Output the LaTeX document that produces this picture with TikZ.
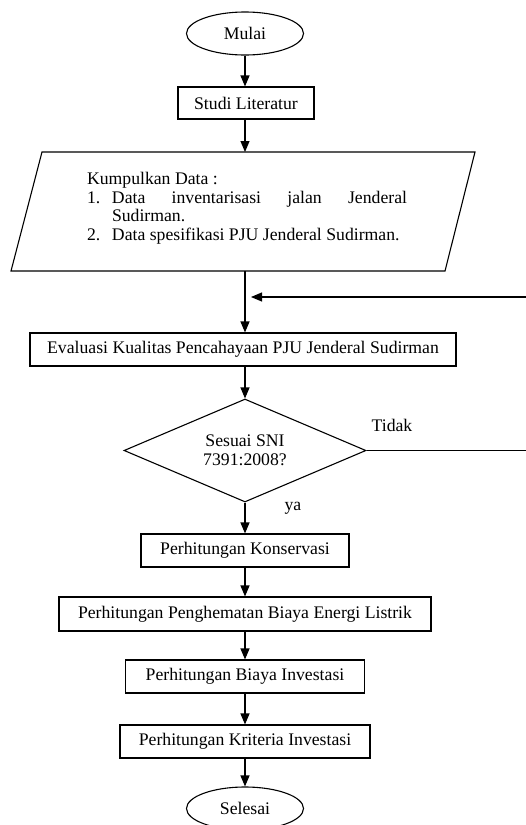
\documentclass[tikz,border=0pt]{standalone}
\usepackage{fontspec}
\setmainfont{Liberation Serif}
\usetikzlibrary{shapes.geometric,arrows.meta}
\begin{document}
\begin{tikzpicture}[x=1pt,y=-1pt,
  every node/.style={font=\fontsize{17.7}{18.5}\selectfont},
  box/.style={draw, line width=1.1pt, minimum height=33pt, inner sep=0pt},
  term/.style={draw, ellipse, line width=1.1pt, minimum width=117pt, minimum height=43pt, inner sep=0pt},
  decision/.style={draw, diamond, aspect=2.35, line width=1.1pt, minimum width=242pt, minimum height=103pt, inner sep=0pt, align=center},
  arr/.style={line width=1.1pt, -{Triangle[length=11pt,width=9pt]}},
  ln/.style={line width=1.1pt},
  lbl/.style={inner sep=0pt}]
\useasboundingbox (0,0) rectangle (526,825);

\node[term] (mulai) at (245,33.5) {Mulai};
\node[box, minimum width=136pt, minimum height=32pt] (studi) at (246,103) {Studi Literatur};

% parallelogram
\coordinate (pTL) at (42,152);
\coordinate (pTR) at (475,152);
\coordinate (pBR) at (445,271);
\coordinate (pBL) at (11,271);
\coordinate (pTop) at (245,152);
\coordinate (pBot) at (245,271);
\draw[ln] (pTL) -- (pTR) -- (pBR) -- (pBL) -- cycle;
\node[lbl, align=left] (kump) at (247,208) {Kumpulkan Data :\\
\makebox[25pt][l]{1.}\makebox[295pt][s]{Data inventarisasi jalan Jenderal}\\
\hspace*{25pt}Sudirman.\\
\makebox[25pt][l]{2.}Data spesifikasi PJU Jenderal Sudirman.};

\node[box, minimum width=426pt] (eval) at (243,349.5) {Evaluasi Kualitas Pencahayaan PJU Jenderal Sudirman};
\node[decision] (snI) at (245,450.5) {Sesuai SNI\\7391:2008?};
\node[box, minimum width=208pt] (kons) at (245,550.5) {Perhitungan Konservasi};
\node[box, minimum width=372pt, minimum height=34pt] (hemat) at (245,614) {Perhitungan Penghematan Biaya Energi Listrik};
\node[box, minimum width=239pt] (biaya) at (245,676.5) {Perhitungan Biaya Investasi};
\node[box, minimum width=250pt] (krit) at (245,741.5) {Perhitungan Kriteria Investasi};
\node[term] (selesai) at (245,808.5) {Selesai};

\node[lbl] (tidak) at (392,425) {Tidak};
\node[lbl] (ya) at (293,508) {ya};

% connectors
\draw[arr] (mulai.south) -- (mulai.south |- studi.north);
\draw[arr] (studi.south -| pTop) -- (pTop);
\draw[arr] (pBot) -- (pBot |- eval.north);
\draw[arr] (eval.south -| snI) -- (snI.north);
\draw[arr] (snI.south) -- (snI.south |- kons.north);
\draw[arr] (kons) -- (hemat);
\draw[arr] (hemat) -- (biaya);
\draw[arr] (biaya) -- (krit);
\draw[arr] (krit) -- (selesai);

\coordinate (fbR1) at (528,450.5);
\coordinate (fbR2) at (528,297);
\coordinate (fbEnd) at (251,297);
\draw[ln] (snI.east) -- (fbR1) -- (fbR2);
\draw[arr] (fbR2) -- (fbEnd);
\end{tikzpicture}
\end{document}
